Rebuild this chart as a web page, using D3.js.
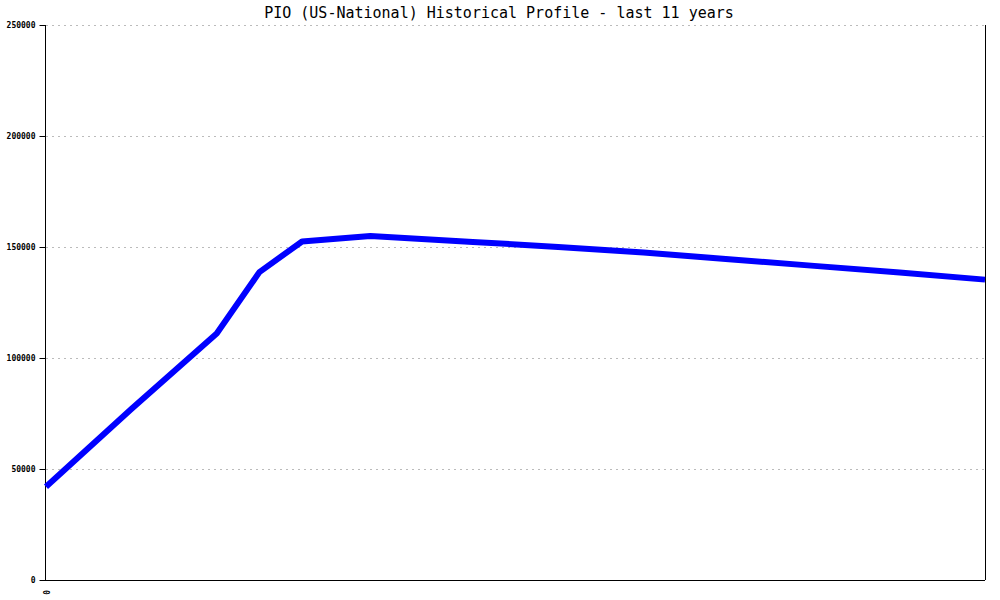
<!DOCTYPE html>
<html><head><meta charset="utf-8">
<script src="https://cdn.jsdelivr.net/npm/d3@7"></script>
<style>body{margin:0;background:#fff}svg{display:block}</style>
</head><body>
<script>
const title = "PIO (US-National) Historical Profile - last 11 years";
const years = [0, 1, 2, 2.5, 3, 3.8, 5, 6, 7, 8, 9, 10, 11];
const values = [42000, 77000, 111000, 138700, 152500, 155000, 152300, 150000, 147500, 144500, 141500, 138500, 135300];
const yTicks = [0, 50000, 100000, 150000, 200000, 250000];
const xTickLabels = ["0"];

const W = 1000, H = 600;
const m = {l: 46, r: 985, t: 25, b: 580};
const svg = d3.select("body").append("svg").attr("width", W).attr("height", H);
const x = d3.scaleLinear().domain([0, 11]).range([m.l, m.r]);
const y = d3.scaleLinear().domain([0, 250000]).range([m.b, m.t]);

// grid
svg.append("g").selectAll("line").data(yTicks.filter(d => d > 0)).join("line")
  .attr("x1", m.l).attr("x2", m.r)
  .attr("y1", d => Math.round(y(d)) + 0.5).attr("y2", d => Math.round(y(d)) + 0.5)
  .attr("stroke", "#bbb").attr("stroke-dasharray", "2,4");

// title
svg.append("text").attr("x", 499).attr("y", 18).attr("text-anchor", "middle")
  .attr("font-family", "DejaVu Sans Mono, monospace").attr("font-size", 15)
  .attr("fill", "#000").text(title);

// y axis
const yAxis = d3.axisLeft(y).tickValues(yTicks).tickSize(6).tickFormat(d3.format("d"));
const ga = svg.append("g").attr("transform", `translate(${m.l - 0.5},0)`).call(yAxis);
ga.select(".domain").attr("stroke", "#000").attr("d", `M0,${m.t}V${m.b}`);
ga.selectAll(".tick line").attr("stroke", "#000");
ga.selectAll(".tick text").attr("font-family", "DejaVu Sans Mono, monospace")
  .attr("font-size", 8).attr("font-weight", "bold").attr("x", -10).attr("dy", "0.32em");

// x axis
const xAxis = d3.axisBottom(x).tickValues([0]).tickSize(0).tickFormat((d, i) => xTickLabels[i]);
const gx = svg.append("g").attr("transform", `translate(0,${m.b + 0.5})`).call(xAxis);
gx.select(".domain").attr("stroke", "#000").attr("d", `M${m.l - 6},0H${m.r}`);
gx.selectAll(".tick text").attr("font-family", "DejaVu Sans Mono, monospace")
  .attr("font-size", 8).attr("font-weight", "bold")
  .attr("transform", "rotate(90)").attr("y", 1).attr("x", 12).attr("dy", "0.32em")
  .attr("text-anchor", "middle");

// right border
svg.append("line").attr("x1", m.r + 0.5).attr("x2", m.r + 0.5).attr("y1", m.t).attr("y2", m.b)
  .attr("stroke", "#000");

// line
const line = d3.line().x((d, i) => x(years[i])).y(d => y(d));
svg.append("path").datum(values).attr("d", line)
  .attr("fill", "none").attr("stroke", "#0000ff").attr("stroke-width", 6)
  .attr("stroke-linejoin", "round");
</script>
</body></html>
